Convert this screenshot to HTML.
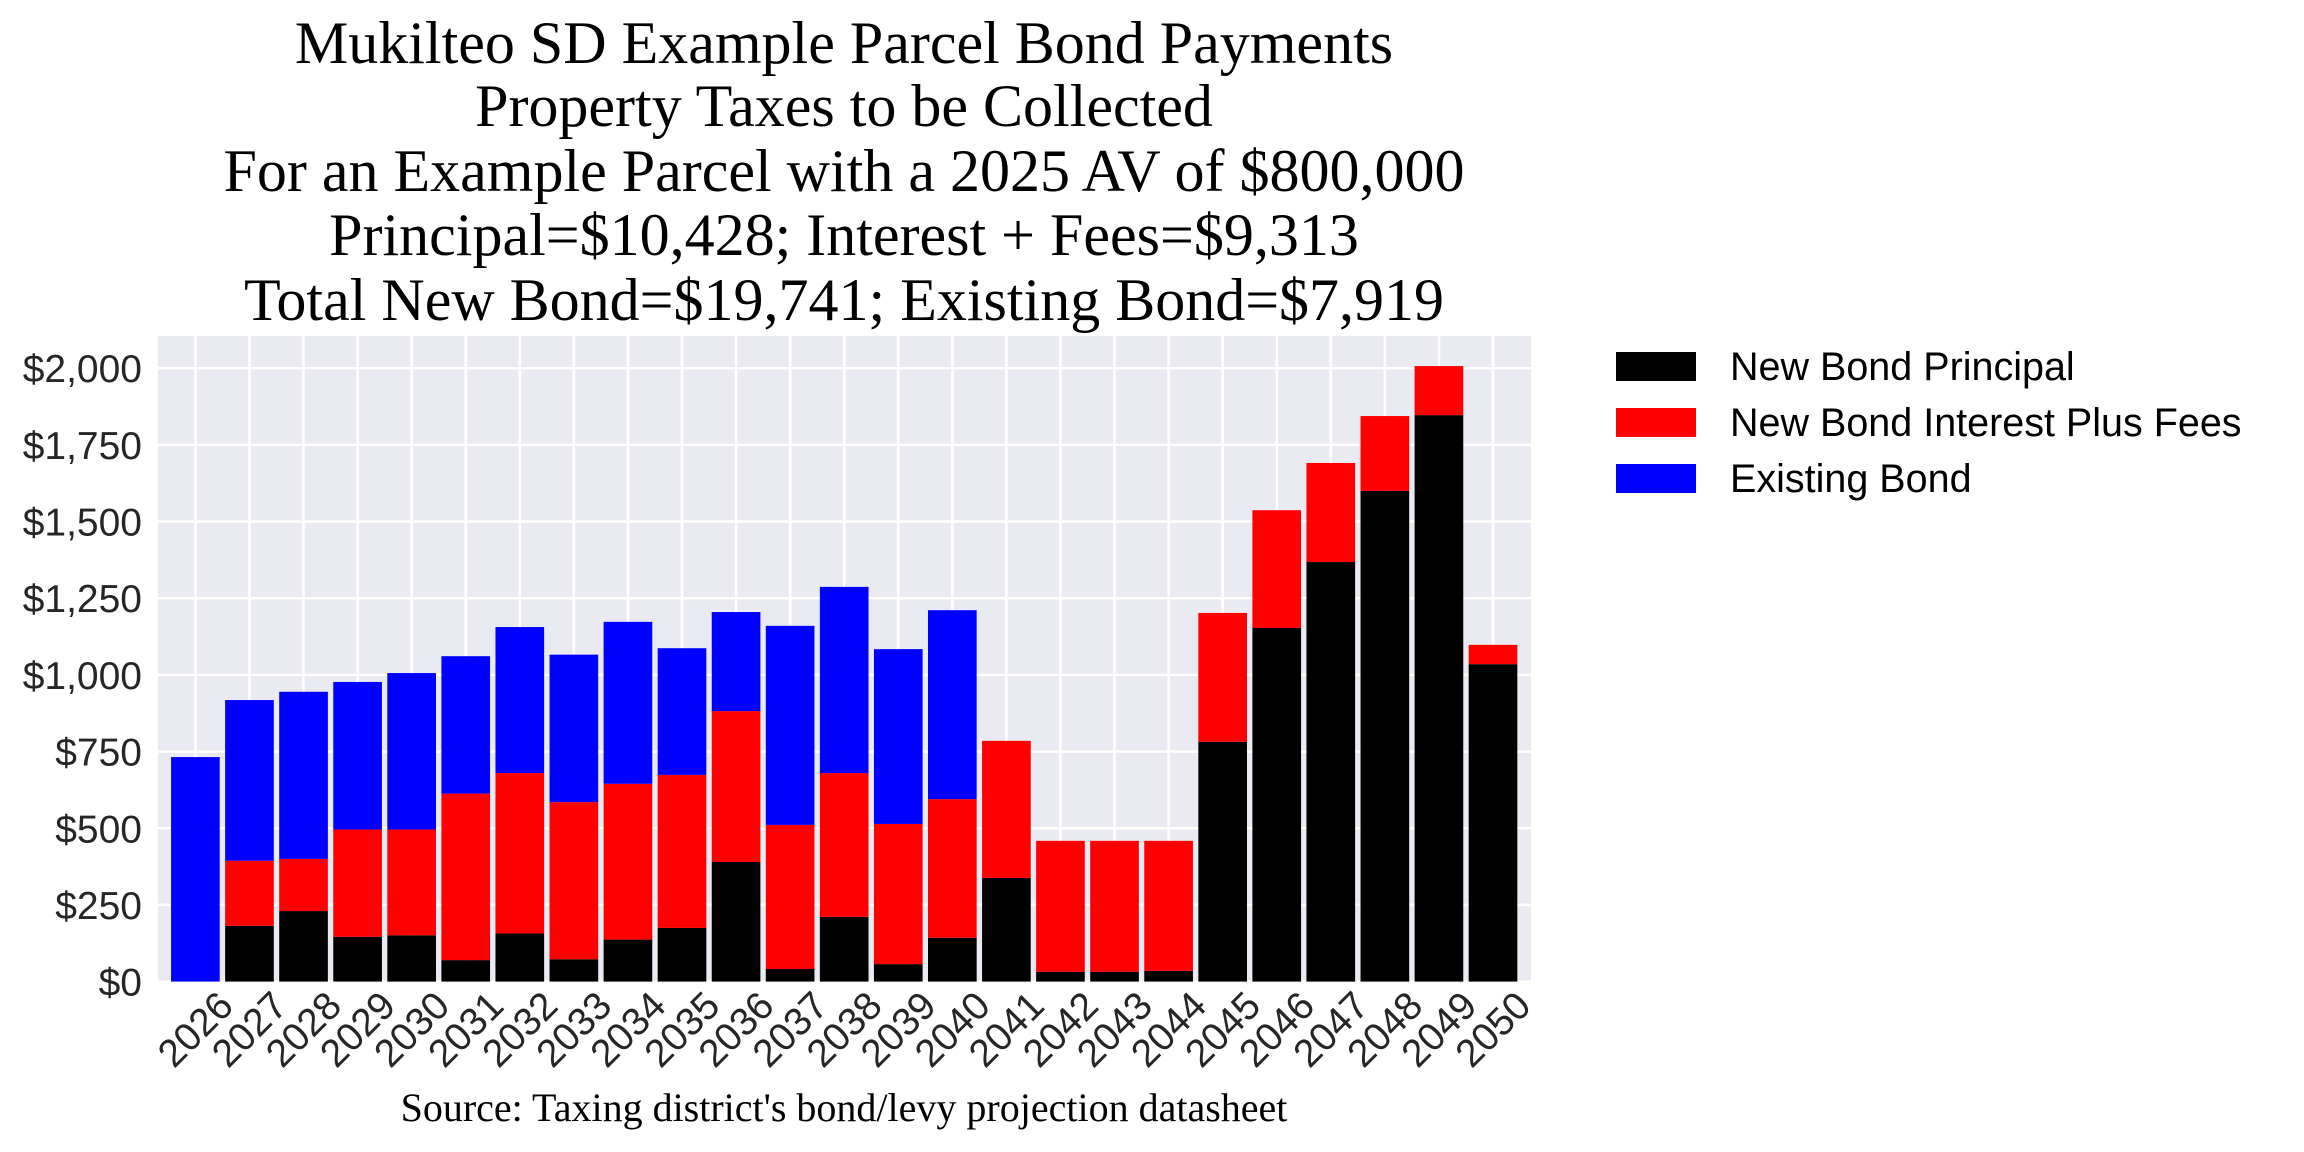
<!DOCTYPE html>
<html><head><meta charset="utf-8"><style>
html,body{margin:0;padding:0;background:#fff;}
svg{display:block;}
</style></head><body>
<svg id="chart" width="2304" height="1152" viewBox="0 0 2304 1152" xmlns="http://www.w3.org/2000/svg">
<rect width="2304" height="1152" fill="#fff"/>
<g id="title" font-family="'Liberation Serif', serif" font-size="60" text-anchor="middle" fill="#000">
<text x="844" y="63">Mukilteo SD Example Parcel Bond Payments</text>
<text x="844" y="126">Property Taxes to be Collected</text>
<text x="844" y="191">For an Example Parcel with a 2025 AV of $800,000</text>
<text x="844" y="255">Principal=$10,428; Interest + Fees=$9,313</text>
<text x="844" y="320">Total New Bond=$19,741; Existing Bond=$7,919</text>
</g>
<rect x="158" y="336" width="1373" height="646" fill="#eaeaf2"/>
<g id="grid"></g>
<g id="bars"></g>
<g id="yticks" font-family="'Liberation Sans', sans-serif" font-size="39" fill="#262626" text-anchor="end"></g>
<g id="xticks" font-family="'Liberation Sans', sans-serif" font-size="39" fill="#262626" text-anchor="end"></g>
<text x="844" y="1121" font-family="'Liberation Serif', serif" font-size="40" text-anchor="middle" fill="#000">Source: Taxing district's bond/levy projection datasheet</text>
<g id="legend" font-family="'Liberation Sans', sans-serif" font-size="39.5" fill="#000">
<g><rect x="1616" y="352" width="80" height="29" fill="#000"/><text x="1730" y="380">New Bond Principal</text></g>
<g><rect x="1616" y="408" width="80" height="29" fill="#ff0000"/><text x="1730" y="436">New Bond Interest Plus Fees</text></g>
<g><rect x="1616" y="464" width="80" height="29" fill="#0000ff"/><text x="1730" y="492">Existing Bond</text></g>
</g>
</svg>
<script>
const years = [2026,2027,2028,2029,2030,2031,2032,2033,2034,2035,2036,2037,2038,2039,2040,2041,2042,2043,2044,2045,2046,2047,2048,2049,2050];
const principal = [0,182,230,146,151,70,157,73,137,175,390,41,211,57,143,338,32,32,35,782,1153,1368,1600,1847,1035];
const interest = [0,212,170,350,345,543,523,512,508,499,492,470,469,457,452,447,427,427,424,420,384,323,244,160,63];
const existing = [732,524,545,481,510,448,476,481,528,413,323,649,607,570,616,0,0,0,0,0,0,0,0,0,0];
const yTicks = [0,250,500,750,1000,1250,1500,1750,2000];
const yTickLabels = ["$0","$250","$500","$750","$1,000","$1,250","$1,500","$1,750","$2,000"];

const NS="http://www.w3.org/2000/svg";
const x0=195.4, step=(1493-195.4)/24, barW=step*0.9;
const y0=981.6, perUnit=(981.6-368.2)/2000;
const xs=i=>x0+i*step;
const ys=v=>y0-v*perUnit;
function mk(tag,attrs,parent){const e=document.createElementNS(NS,tag);for(const k in attrs)e.setAttribute(k,attrs[k]);parent.appendChild(e);return e;}
const grid=document.getElementById('grid'),bars=document.getElementById('bars'),yt=document.getElementById('yticks'),xt=document.getElementById('xticks');
yTicks.forEach((v,i)=>{
  const l=mk('line',{x1:158,x2:1531,y1:ys(v),y2:ys(v),stroke:'#fff','stroke-width':2.5},grid);
  
  
  const t=mk('text',{x:142,y:ys(v)+14},yt);
  t.textContent=yTickLabels[i];
  
  
});
years.forEach((yr,i)=>{
  const cx=xs(i);
  const l=mk('line',{x1:cx,x2:cx,y1:336,y2:982,stroke:'#fff','stroke-width':2.5},grid);
  
  
  const segs=[[principal[i],'#000000','bar-principal'],[interest[i],'#ff0000','bar-interest'],[existing[i],'#0000ff','bar-existing']];
  let base=0;
  segs.forEach(s=>{
    if(s[0]>0){
      const r=mk('rect',{x:cx-barW/2,y:ys(base+s[0]),width:barW,height:s[0]*perUnit,fill:s[1]},bars);
      
      
    }
    base+=s[0];
  });
  const t=mk('text',{x:0,y:0,transform:`translate(${cx+40},${1008}) rotate(-45)`},xt);
  t.textContent=yr;
  
  
});
</script>
</body></html>
